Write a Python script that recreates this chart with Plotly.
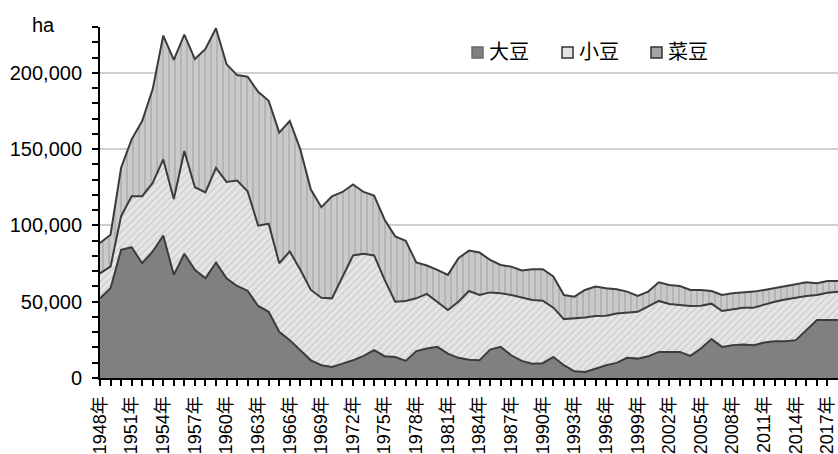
import plotly.graph_objects as go

years = list(range(1948, 2019))

daizu = [52200, 58800, 84000, 85700, 75200, 82900, 93400, 67600, 81400, 70900,
         65400, 75700, 65400, 60300, 57200, 47200, 43400, 30300, 24800, 18200,
         11600, 8400, 7200, 9400, 11600, 14500, 18200, 14300, 13800, 11200,
         17600, 19300, 20400, 16000, 13200, 12000, 11600, 18600, 20400, 14900,
         11200, 9400, 9700, 13800, 8400, 4400, 3900, 6100, 8400, 9900,
         13200, 12700, 14200, 17100, 17100, 17100, 14500, 19300, 25500, 20400,
         21500, 21900, 21500, 23200, 24100, 24100, 24800, 31400, 38000, 38000,
         38000]

azuki = [16400, 14200, 21900, 33400, 43900, 44900, 49800, 49700, 67300, 54100,
         56300, 62000, 63100, 69100, 65200, 52600, 57700, 44900, 58100, 52700,
         46100, 44200, 45000, 57100, 68700, 66900, 62100, 50000, 36200, 39300,
         34600, 35800, 29600, 28500, 36800, 45000, 42800, 37500, 35100, 39500,
         41600, 41700, 41000, 32300, 30200, 34600, 35800, 34500, 32400, 32400,
         29800, 30700, 32800, 33400, 31400, 30700, 32700, 28100, 23200, 23500,
         23700, 24200, 24600, 25000, 25900, 27400, 28000, 22400, 16400, 17900,
         18600]

saizu = [19800, 20900, 31800, 37300, 49300, 61500, 81200, 91100, 76300, 84000,
         93900, 91500, 77200, 69100, 75000, 87700, 80500, 85600, 85500, 78900,
         65800, 59300, 66900, 55400, 46500, 40500, 39200, 39400, 42800, 39400,
         23500, 18600, 20900, 23100, 28500, 26500, 27800, 21300, 18600, 18600,
         17600, 20200, 20600, 20400, 15800, 14300, 18000, 19300, 18000, 15800,
         13600, 10400, 9600, 12200, 12500, 12500, 10500, 10300, 8300, 10500,
         10300, 10000, 10500, 9500, 8800, 8400, 8600, 8900, 7700, 7700,
         7000]

series_names = ["大豆", "小豆", "菜豆"]

tick_years = list(range(1948, 2018))
tick_labels = [f"{y}年" if (y - 1948) % 3 == 0 else "" for y in tick_years]

FONT = "Liberation Sans, Arial, Noto Sans CJK JP, sans-serif"
LINE = "#3c3c3c"

fills = [
    dict(fillcolor="#808080", fillpattern=None),
    dict(fillcolor="#e2e2e2",
         fillpattern=dict(shape="/", bgcolor="#e6e6e6", fgcolor="#bebebe", size=5, solidity=0.35)),
    dict(fillcolor="#c0c0c0",
         fillpattern=dict(shape="|", bgcolor="#cacaca", fgcolor="#9a9a9a", size=6, solidity=0.3)),
]

fig = go.Figure()
for name, vals, f in zip(series_names, [daizu, azuki, saizu], fills):
    kw = dict(x=years, y=vals, name=name, stackgroup="one", mode="lines",
              line=dict(color=LINE, width=2), fillcolor=f["fillcolor"],
              showlegend=False, hoverinfo="skip")
    if f["fillpattern"] is not None:
        kw["fillpattern"] = f["fillpattern"]
    fig.add_trace(go.Scatter(**kw))

# hand-drawn legend (square swatch + text), positioned in paper coordinates
def px_x(x):
    return (x - 100) / 738

def px_y(y):
    return (378 - y) / 351

legend_swatches = [
    dict(fill="#808080", line="#6a6a6a", x=472),
    dict(fill="#e4e4e4", line="#333333", x=562),
    dict(fill="#a4a4a4", line="#333333", x=651),
]
shapes = []
annotations = []
for name, sw in zip(series_names, legend_swatches):
    shapes.append(dict(type="rect", xref="paper", yref="paper",
                       x0=px_x(sw["x"]), x1=px_x(sw["x"] + 11),
                       y0=px_y(58), y1=px_y(47),
                       fillcolor=sw["fill"], line=dict(color=sw["line"], width=1.5)))
    annotations.append(dict(text=name, xref="paper", yref="paper",
                            x=px_x(sw["x"] + 15), y=px_y(52),
                            xanchor="left", yanchor="middle", showarrow=False,
                            font=dict(size=20, family=FONT, color="black")))

annotations.append(dict(text="ha", xref="paper", yref="paper", x=px_x(43), y=px_y(25),
                        xanchor="center", yanchor="middle", showarrow=False,
                        font=dict(size=20, family=FONT, color="black")))

fig.update_layout(
    width=838, height=454,
    margin=dict(l=100, r=0, t=27, b=76),
    paper_bgcolor="white", plot_bgcolor="white",
    font=dict(family=FONT, size=20, color="black"),
    showlegend=False,
    shapes=shapes,
    annotations=annotations,
)

fig.update_xaxes(
    type="linear", range=[1948, 2018],
    tickmode="array", tickvals=tick_years, ticktext=tick_labels,
    tickangle=-90, ticks="outside", ticklen=6, tickwidth=2, tickcolor="black",
    showline=True, linecolor="black", linewidth=2, showgrid=False, zeroline=False,
    automargin=False, tickfont=dict(size=18, family=FONT),
    ticklabeloverflow="allow", ticklabelstandoff=3,
)
fig.update_yaxes(
    range=[0, 230000], tickmode="linear", tick0=0, dtick=50000, tickformat=",",
    ticks="outside", ticklen=6, tickwidth=2, tickcolor="black",
    minor=dict(dtick=10000, ticks="outside", ticklen=6, tickwidth=2, tickcolor="black", showgrid=False),
    showline=True, linecolor="black", linewidth=2,
    showgrid=True, gridcolor="#d0d0d0", gridwidth=2, zeroline=False,
    automargin=False, tickfont=dict(size=20, family=FONT),
    ticklabelstandoff=6,
)

fig.write_html("out.html", config={"displayModeBar": False},
               post_script="document.body.style.margin='0';document.body.style.overflow='hidden';")
